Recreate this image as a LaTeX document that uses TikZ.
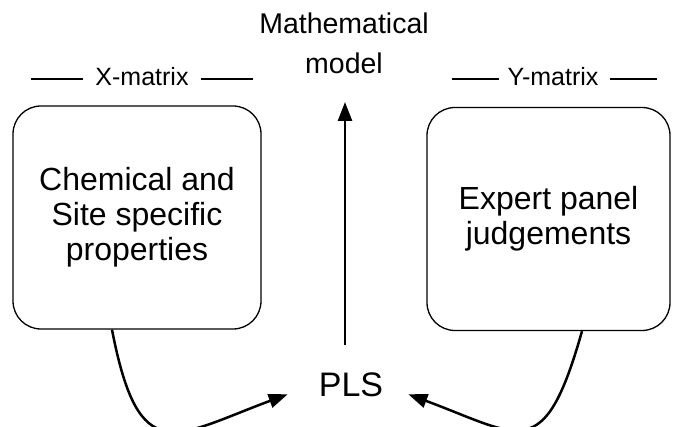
\documentclass[tikz,border=0pt]{standalone}
\usepackage{fontspec}
\setmainfont{Liberation Sans}
\usepackage{tikz}
\usetikzlibrary{positioning,arrows.meta}

\begin{document}
\begin{tikzpicture}[x=1pt,y=-1pt,
  panel/.style={draw, line width=1.3pt, rounded corners=28pt, align=center,
    inner sep=0pt, font=\fontsize{32}{35}\selectfont},
  matlabel/.style={inner sep=0pt, font=\fontsize{25}{30}\selectfont},
  flow/.style={line width=2.5pt, -{Triangle[length=19pt,width=14pt]}},
  rule/.style={line width=1.3pt}]
% Laid out in pixel units with y pointing down. Both data blocks feed
% the PLS step, which in turn yields the model at the top.
\useasboundingbox (0,0) rectangle (674,427);
% Data blocks
\node[panel, minimum width=248pt, minimum height=223pt] (xbox) at (137,217.5)
  {Chemical and\\Site specific\\properties};
\node[panel, minimum width=243pt, minimum height=223pt] (ybox) at (548.5,219)
  {Expert panel\\judgements};
% Matrix captions with rules on both sides
\node[matlabel, anchor=base] (xlab) at (142,86) {X-matrix};
\node[matlabel, anchor=base] (ylab) at (553,86) {Y-matrix};
\draw[rule] ([xshift=-12pt,yshift=7pt]xlab.base west) -- ++(-52,0);
\draw[rule] ([xshift=12pt,yshift=7pt]xlab.base east) -- ++(52,0);
\draw[rule] ([xshift=-8pt,yshift=7pt]ylab.base west) -- ++(-47,0);
\draw[rule] ([xshift=11pt,yshift=7pt]ylab.base east) -- ++(47,0);
% Centre column
\node[anchor=south, align=center, inner sep=0pt, font=\fontsize{28.5}{40}\selectfont]
  (model) at (344,74) {Mathematical\\model};
\node[anchor=base, inner sep=0pt, font=\fontsize{34}{40}\selectfont]
  (pls) at (351,396) {PLS};
\draw[flow] ([xshift=-6pt,yshift=27pt]pls.north) -- ([xshift=1pt,yshift=-28pt]model.south);
% Loops from the blocks into PLS
\draw[flow] ([xshift=-25pt]xbox.south) .. controls +(27,140) and +(-113,42)
  .. ([xshift=-31pt,yshift=-10pt]pls.west);
\draw[flow] ([xshift=33.5pt]ybox.south) .. controls +(-38,134) and +(113,42)
  .. ([xshift=25pt,yshift=-10pt]pls.east);
\end{tikzpicture}
\end{document}
